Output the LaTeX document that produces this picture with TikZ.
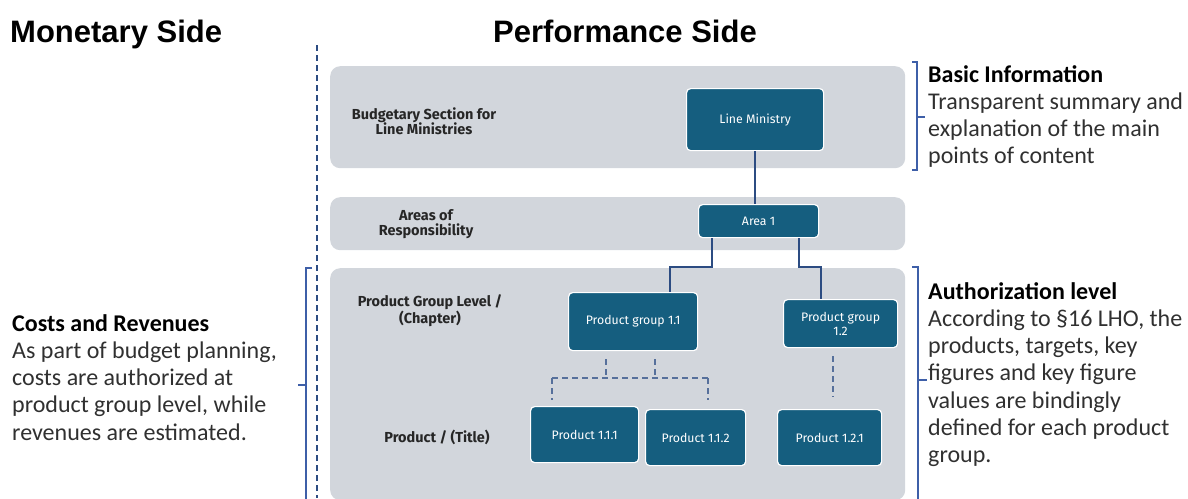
\documentclass[tikz,border=0pt]{standalone}
\usepackage{fontspec}
\setmainfont{Carlito}
\newfontfamily\titlefont{Liberation Sans}
\newfontfamily\labelfont{Fira Sans}
\definecolor{unitteal}{HTML}{155E7F}
\definecolor{panelgray}{HTML}{D2D6DC}
\definecolor{linkblue}{HTML}{2C4C82}
\definecolor{bracketblue}{HTML}{3E5FA8}
\definecolor{bodygray}{HTML}{303030}
\tikzset{
  panel/.style={fill=panelgray, draw=none, rounded corners=10pt, anchor=north west, inner sep=0pt},
  unit/.style={fill=unitteal, draw=white, line width=1.2pt, rounded corners=4pt, text=white,
    font=\labelfont\fontsize{12.3}{14}\selectfont, align=center, anchor=north west, inner sep=0pt},
  lvl/.style={font=\labelfont\bfseries\fontsize{14.5}{15.5}\selectfont, align=center, text=black!85, inner sep=0pt},
  headline/.style={font=\titlefont\bfseries\fontsize{31}{36}\selectfont, anchor=base west, inner sep=0pt},
  note/.style={font=\fontsize{24}{27.3}\selectfont, text=bodygray, align=left, anchor=north west, inner sep=0pt},
  link/.style={draw=linkblue, line width=2pt},
  dlink/.style={draw=linkblue!80, line width=1.6pt, dash pattern=on 6pt off 4pt},
  brk/.style={draw=bracketblue, line width=2pt},
}
\begin{document}
\begin{tikzpicture}[x=1pt, y=-1pt]
\useasboundingbox (0,0) rectangle (1188,498);

% headings
\node[headline] (hmon) at (10,42) {Monetary Side};
\node[headline] (hperf) at (493,42) {Performance Side};

% separator between the two sides
\draw[draw=linkblue, line width=1.5pt, dash pattern=on 6pt off 4pt] (317,45) -- (317,498);

% level bands
\node[panel, minimum width=575pt, minimum height=102pt] (band1) at (330,66) {};
\node[panel, minimum width=575pt, minimum height=53pt] (band2) at (330,197) {};
\node[panel, minimum width=575pt, minimum height=232pt] (band3) at (330,268) {};

% level names
\node[lvl] (l1) at (424,121) {Budgetary Section for\\Line Ministries};
\node[lvl] (l2) at (426,224) {Areas of\\Responsibility};
\node[lvl] (l3) at (430,311) {Product Group Level /\\(Chapter)};
\node[lvl] (l4) at (437,437) {Product / (Title)};

% organisational units
\node[unit, minimum width=137pt, minimum height=62pt] (lm) at (686,88) {Line Ministry};
\node[unit, minimum width=120pt, minimum height=33pt] (area) at (698,204) {Area 1};
\node[unit, minimum width=129pt, minimum height=58pt] (pg11) at (568,292) {Product group 1.1};
\node[unit, minimum width=114pt, minimum height=48pt] (pg12) at (783,299) {Product group\\1.2};
\node[unit, minimum width=108pt, minimum height=56pt] (p111) at (530,406) {Product 1.1.1};
\node[unit, minimum width=100pt, minimum height=56pt] (p112) at (645,409) {Product 1.1.2};
\node[unit, minimum width=104pt, minimum height=56pt] (p121) at (777,409) {Product 1.2.1};

% solid links
\draw[link] (lm.south) -- (lm.south |- area.north);
\coordinate (ka) at (712,267);
\coordinate (kb) at (670,267);
\coordinate (kc) at (799,267);
\coordinate (kd) at (821,267);
\draw[link] (area.south -| ka) -- (ka) -- (kb) -- (pg11.north -| kb);
\draw[link] (area.south -| kc) -- (kc) -- (kd) -- (pg12.north -| kd);

% dashed links to products
\coordinate (da) at (606,378);
\coordinate (db) at (655,378);
\coordinate (dl) at (552,378);
\coordinate (dr) at (708,378);
\draw[dlink] ([yshift=-8pt]pg11.south -| da) -- (da);
\draw[dlink] ([yshift=-8pt]pg11.south -| db) -- (db);
\draw[dlink] (dl) -- (dr);
\draw[dlink] (dl) -- ([yshift=6pt]p111.north -| dl);
\draw[dlink] (dr) -- ([yshift=9pt]p112.north -| dr);
\coordinate (de) at (833,356);
\draw[dlink] (de) -- ([yshift=12pt]p121.north -| de);

% brackets
\draw[brk] (912,62) -- (917,62) -- (917,170) -- (912,170);
\coordinate (bt1) at (917,117);
\draw[brk] (bt1) -- ++(8,0);
\draw[brk] (912,267) -- (918,267) -- (918,500);
\coordinate (bt2) at (918,380);
\draw[brk] (bt2) -- ++(9,0);
\draw[brk] (312,268) -- (306,268) -- (306,500);
\coordinate (bt3) at (306,385);
\draw[brk] (bt3) -- ++(-8,0);

% notes
\node[note] (n1) at (928,65) {\textbf{\color{black}Basic Information}\\Transparent summary and\\explanation of the main\\points of content};
\node[note] (n2) at (928,282) {\textbf{\color{black}Authorization level}\\According to §16 LHO, the\\products, targets, key\\figures and key figure\\values are bindingly\\defined for each product\\group.};
\node[note] (n3) at (12,314) {\textbf{\color{black}Costs and Revenues}\\As part of budget planning,\\costs are authorized at\\product group level, while\\revenues are estimated.};
\end{tikzpicture}
\end{document}
